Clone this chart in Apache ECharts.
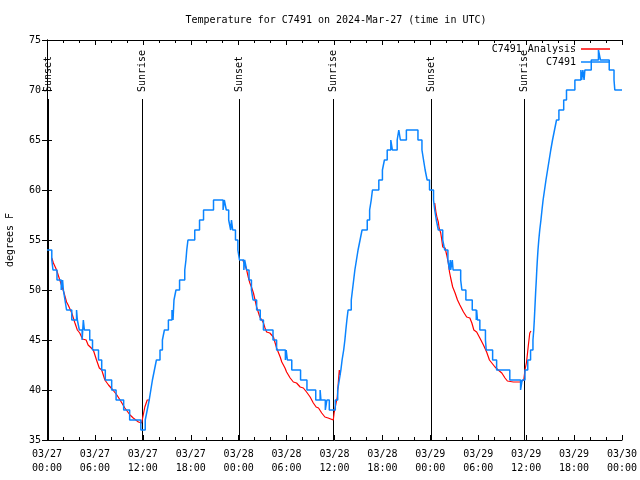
<!DOCTYPE html>
<html>
<head>
<meta charset="utf-8">
<script src="https://cdn.jsdelivr.net/npm/echarts@6/dist/echarts.min.js"></script>
<style>html,body{margin:0;padding:0;background:#fff}#c{width:640px;height:480px}</style>
</head>
<body>
<div id="c"></div>
<script>
// Hours since 03/27 00:00 UTC
const xTickLabels = ['03/27\n00:00','03/27\n06:00','03/27\n12:00','03/27\n18:00','03/28\n00:00','03/28\n06:00','03/28\n12:00','03/28\n18:00','03/29\n00:00','03/29\n06:00','03/29\n12:00','03/29\n18:00','03/30\n00:00'];
const yTicks = [35, 40, 45, 50, 55, 60, 65, 70, 75];

// Observations (step start time, temperature F)
const obs = [
[0,54],[0.6,53],[0.75,52],[1.25,51],[1.78,50],[1.95,51],[2.05,50],[2.25,49],[2.45,48],[3.1,47],[3.7,48],[3.8,47],[4.05,46],[4.4,45],[4.55,47],[4.68,46],[5.35,45],[5.7,44],[6.45,43],[6.85,42],[7.3,41],[8.1,40],[8.65,39],[9.6,38],[10.35,37],[11.75,36],
[12.3,37],[12.55,38],[12.8,39],[13.0,40],[13.2,41],[13.45,42],[13.7,43],[14.15,44],[14.45,45],[14.7,46],[15.2,47],[15.65,48],[15.78,47],[15.9,49],[16.15,50],[16.6,51],[17.25,52],[17.4,53],[17.5,54],[17.65,55],[18.5,56],[19.1,57],[19.6,58],[20.85,59],[22.05,58],[22.2,59],[22.45,58],[22.75,57],[23.0,56],[23.1,57],[23.25,56],[23.6,55],[23.9,54],[24.1,53],
[24.65,52],[24.75,53],[25.0,52],[25.3,51],[25.6,50],[25.8,49],[26.25,48],[26.7,47],[27.1,46],[28.3,45],[28.75,44],[29.85,43],[29.95,44],[30.1,43],[30.65,42],[31.75,41],[32.55,40],[33.65,39],[34.2,40],[34.3,39],[34.85,38],[35.05,39],[35.35,38],[36.1,39],
[36.4,40],[36.6,41],[36.8,42],[36.95,43],[37.15,44],[37.3,45],[37.42,46],[37.55,47],[37.7,48],[38.1,49],[38.25,50],[38.4,51],[38.55,52],[38.75,53],[38.95,54],[39.2,55],[39.45,56],[40.1,57],[40.4,58],[40.6,59],[40.75,60],[41.55,61],[42.0,62],[42.25,63],[42.6,64],[43.05,65],[43.25,64],[43.85,65],[44.05,66],[44.25,65],[45.0,66],
[46.45,65],[46.95,64],[47.15,63],[47.35,62],[47.6,61],[47.9,60],[48.4,59],[48.55,58],[48.75,57],[49.0,56],[49.55,55],[49.8,54],[50.2,53],[50.4,52],[50.5,53],[50.55,52],[50.75,53],[50.85,52],[51.8,51],[51.95,50],[52.45,49],[53.25,48],[53.75,47],[53.8,48],[53.9,47],[54.2,46],[54.9,45],[55.0,44],[55.8,43],[56.3,42],[57.95,41],[59.3,40],[59.5,41],
[59.85,42],[60.2,43],[60.55,44],[60.85,45],[60.95,46],[61.02,47],[61.08,48],[61.14,49],[61.2,50],[61.27,51],[61.33,52],[61.4,53],[61.48,54],[61.58,55],[61.7,56],[61.85,57],[61.98,58],[62.12,59],[62.3,60],[62.48,61],[62.68,62],[62.88,63],[63.08,64],[63.3,65],[63.55,66],[63.8,67],[64.1,68],[64.7,69],[65.05,70],[66.1,71],[66.85,72],[66.95,71],[67.1,72],[67.25,71],[67.35,72],[68.15,73],[69.05,74],[69.3,73],[70.4,72],[71.0,71],[71.1,70],[72,70]
];

// Analysis (night segments)
const analysis1 = [[0.6,53.2],[0.8,52.7],[1.2,52],[1.6,51],[2.1,49.8],[2.45,48.8],[2.65,48.5],[2.9,48.3],[3.1,47.7],[3.3,47.2],[3.5,46.7],[3.8,46],[4.1,45.7],[4.45,45.1],[4.9,45],[5.15,44.5],[5.8,44],[6.2,43],[6.55,42.2],[6.85,42],[7.25,41],[7.7,40.5],[8.25,40],[8.75,39.5],[9.15,39],[9.75,38.2],[10.4,37.5],[10.8,37.2],[11.45,36.8],[11.85,36.7],[12.0,37.3],[12.25,38.3],[12.55,39],[12.9,39]];
const analysis2 = [[24.5,53],[24.8,52.5],[25.0,52],[25.2,51.3],[25.4,50.7],[25.6,50.3],[25.85,49.7],[26.05,49],[26.25,48.3],[26.45,47.8],[26.65,47.3],[26.9,47],[27.1,46.7],[27.3,46.2],[27.5,45.8],[27.9,45.7],[28.35,45.3],[28.55,45.2],[28.75,44.2],[28.95,43.8],[29.2,43.3],[29.4,42.8],[29.6,42.7],[29.8,42.2],[30.0,41.8],[30.45,41.2],[30.85,40.8],[31.25,40.7],[31.7,40.3],[32.1,40.2],[32.5,39.8],[32.95,39.3],[33.35,38.7],[33.7,38.3],[34.0,38.2],[34.4,37.7],[34.8,37.3],[35.2,37.2],[35.85,37],[35.95,37.7],[36.2,38.7],[36.35,39.3],[36.5,41],[36.6,42],[36.7,41.5]];
const analysis3 = [[48.55,58.7],[48.7,57.8],[48.85,57.2],[49.0,56.8],[49.1,56.2],[49.3,55.7],[49.4,55.2],[49.55,54.3],[49.85,54.2],[50.05,53.5],[50.25,52.7],[50.4,51.8],[50.55,51.2],[50.8,50.3],[51.1,49.7],[51.4,49],[51.7,48.5],[52.15,47.8],[52.55,47.3],[52.95,47.2],[53.2,46.7],[53.45,46],[53.8,45.8],[54.2,45.2],[54.65,44.5],[55.05,43.8],[55.4,43],[55.7,42.7],[56.1,42.3],[56.5,42],[56.95,41.7],[57.35,41.2],[57.65,40.9],[58.4,40.8],[59.25,40.8],[59.7,41],[59.85,42],[60.05,42.8],[60.25,44.3],[60.45,45.7],[60.6,45.9]];

const sunTimes = [0.08, 11.85, 24.08, 35.85, 48.12, 59.75];
const sunLabels = ['Sunset','Sunrise','Sunset','Sunrise','Sunset','Sunrise'];

const FONT = '"DejaVu Sans Mono", "Liberation Mono", monospace';
const BLUE = '#0a84ff';
const RED = '#ff0000';
const SUN_LINE_TOP = 69.1;

const chart = echarts.init(document.getElementById('c'), null, {renderer: 'canvas'});

const tickCommon = {
  axisLine: {show: true, lineStyle: {color: '#000', width: 1}},
  axisTick: {show: true, inside: true, length: 5, lineStyle: {color: '#000', width: 1}},
  splitLine: {show: false}
};

const redSeries = [analysis1, analysis2, analysis3].map(d => ({
  name: 'C7491 Analysis', type: 'line', data: d, showSymbol: false, symbol: 'none',
  lineStyle: {color: RED, width: 1.2}, itemStyle: {color: RED}, z: 3, animation: false
}));

chart.setOption({
  animation: false,
  backgroundColor: '#fff',
  title: {
    text: 'Temperature for C7491 on 2024-Mar-27 (time in UTC)',
    left: 336, top: 15, textAlign: 'center', padding: 0,
    textStyle: {fontFamily: FONT, fontSize: 10, fontWeight: 'normal', color: '#000'}
  },
  legend: {
    orient: 'vertical', right: 30, top: 43.5, align: 'right', padding: 0,
    icon: 'rect', itemWidth: 29, itemHeight: 1.5, itemGap: 2,
    selectedMode: false,
    textStyle: {fontFamily: FONT, fontSize: 10, color: '#000', lineHeight: 11},
    data: [{name: 'C7491 Analysis', itemStyle: {color: RED}}, {name: 'C7491', itemStyle: {color: BLUE}}]
  },
  grid: {left: 47, right: 18, top: 40, bottom: 40, containLabel: false, outerBoundsMode: 'none'},
  xAxis: [
    Object.assign({
      type: 'value', min: 0, max: 72, interval: 6, position: 'bottom',
      minorTick: {show: true, splitNumber: 3, length: 3, lineStyle: {color: '#000'}},
      minorSplitLine: {show: false},
      axisLabel: {formatter: v => xTickLabels[Math.round(v / 6)] || '', fontFamily: FONT, fontSize: 10, color: '#000', lineHeight: 14, margin: 7, hideOverlap: false}
    }, tickCommon),
    Object.assign({
      type: 'value', min: 0, max: 72, interval: 6, position: 'top',
      minorTick: {show: true, splitNumber: 3, length: 3, lineStyle: {color: '#000'}},
      minorSplitLine: {show: false},
      axisLabel: {show: false}
    }, tickCommon)
  ],
  yAxis: [
    Object.assign({
      type: 'value', min: yTicks[0], max: yTicks[yTicks.length - 1], interval: 5, position: 'left',
      name: 'degrees F', nameLocation: 'middle', nameRotate: 90, nameGap: 32,
      nameTextStyle: {fontFamily: FONT, fontSize: 10, color: '#000'},
      axisLabel: {fontFamily: FONT, fontSize: 10, color: '#000', margin: 6}
    }, tickCommon),
    Object.assign({
      type: 'value', min: yTicks[0], max: yTicks[yTicks.length - 1], interval: 5, position: 'right',
      axisLabel: {show: false}
    }, tickCommon)
  ],
  series: [
    {
      type: 'custom', name: 'sun', silent: true, z: 1,
      data: sunTimes.map(t => [t, 35]),
      encode: {x: 0, y: 1},
      clip: false,
      renderItem: function (params, api) {
        const h = api.value(0);
        const top = api.coord([h, SUN_LINE_TOP]);
        const bot = api.coord([h, 35]);
        const tx = Math.round(top[0]) + 0.5;
        return {
          type: 'group',
          children: [
            {type: 'line', shape: {x1: tx, y1: top[1], x2: tx, y2: bot[1]}, style: {stroke: '#000', lineWidth: 1}},
            {type: 'text', x: tx, y: top[1] - 7, rotation: Math.PI / 2,
              style: {text: sunLabels[params.dataIndex], font: '10px ' + FONT, fill: '#000',
                textAlign: 'left', textVerticalAlign: 'middle', align: 'left', verticalAlign: 'middle'}}
          ]
        };
      }
    },
    ...redSeries,
    {
      name: 'C7491', type: 'line', step: 'end', data: obs, showSymbol: false, symbol: 'none',
      lineStyle: {color: BLUE, width: 1.5}, itemStyle: {color: BLUE}, z: 4
    }
  ]
});
</script>
</body>
</html>
